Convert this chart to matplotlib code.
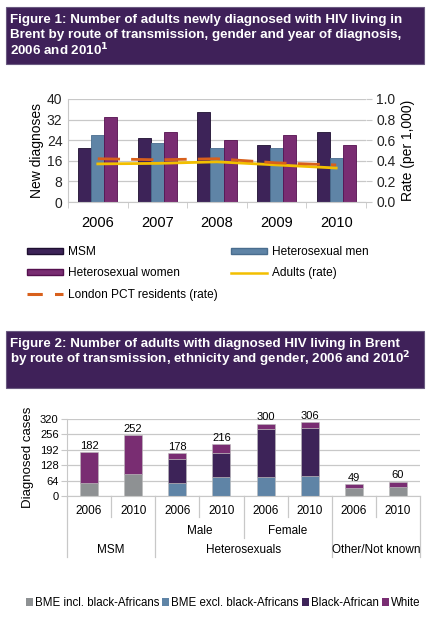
import numpy as np
import matplotlib.pyplot as plt
from matplotlib.patches import Rectangle, Patch
from matplotlib.lines import Line2D

plt.rcParams['font.family'] = ['Liberation Sans', 'DejaVu Sans']

# ---- Figure 1 data ----
years1 = ['2006', '2007', '2008', '2009', '2010']
msm = [21, 25, 35, 22, 27]
het_men = [26, 23, 21, 21, 17]
het_women = [33, 27, 24, 26, 22]
adults_rate = [0.37, 0.375, 0.39, 0.36, 0.33]
london_rate = [0.42, 0.41, 0.42, 0.38, 0.36]

# ---- Figure 2 data ----
years2 = ['2006', '2010', '2006', '2010', '2006', '2010', '2006', '2010']
bme_incl = [52, 92, 0, 0, 0, 0, 35, 39]
bme_excl = [0, 0, 56, 80, 80, 83, 0, 0]
black_african = [0, 0, 98, 100, 197, 198, 0, 0]
white = [130, 160, 24, 36, 23, 25, 14, 21]
totals = [182, 252, 178, 216, 300, 306, 49, 60]
sub_groups = ['Male', 'Female']
main_groups = ['MSM', 'Heterosexuals', 'Other/Not known']

c_msm = '#3d2358'
c_men = '#5f84a6'
c_women = '#792d72'
c_grey = '#8e9193'
c_title = '#3f2159'
grid_c = '#c8c8c8'

W, H = 443, 640
fig = plt.figure(figsize=(W / 100, H / 100), dpi=100)


def px_axes(l, t, r, b):
    return fig.add_axes([l / W, 1 - b / H, (r - l) / W, (b - t) / H])


def title_box(t, b, lines):
    fig.patches.append(Rectangle((6 / W, 1 - b / H), 418 / W, (b - t) / H,
                                 transform=fig.transFigure, facecolor=c_title,
                                 edgecolor='#6a5a80', lw=0.8))
    for i, s in enumerate(lines):
        fig.text(10 / W, 1 - (t + 13 + 15 * i) / H, s, color='white',
                 fontsize=9.6, fontweight='bold', va='center', ha='left')


title_box(7, 64, ['Figure 1: Number of adults newly diagnosed with HIV living in',
                  'Brent by route of transmission, gender and year of diagnosis,',
                  r'2006 and 2010$^{\mathbf{1}}$'])

# ---- Figure 1 ----
ax1 = px_axes(68, 99, 366, 202)
x = np.arange(len(years1))
bw = 0.22
ax1.bar(x - bw, msm, bw, color=c_msm, edgecolor='#1e0f30', lw=0.6, zorder=2)
ax1.bar(x, het_men, bw, color=c_men, edgecolor='#4a6d8e', lw=0.6, zorder=2)
ax1.bar(x + bw, het_women, bw, color=c_women, edgecolor='#55104f', lw=0.6, zorder=2)
ax1.set_ylim(0, 40)
ax1.set_yticks(range(0, 41, 8))
ax1.set_xlim(-0.5, 4.5)
ax1.set_xticks(x)
ax1.set_xticklabels(years1, fontsize=10.5)
ax1.set_xticks(np.arange(-0.5, 5, 1), minor=True)
ax1.tick_params(axis='x', which='major', length=0, pad=10)
ax1.tick_params(axis='x', which='minor', length=4, color=grid_c)
ax1.tick_params(axis='y', length=0, labelsize=10, pad=4, colors='#222222')
ax1.yaxis.grid(True, color=grid_c, lw=0.9, zorder=0)
ax1.set_axisbelow(True)
for s in ['top', 'right']:
    ax1.spines[s].set_visible(False)
ax1.spines['left'].set_color(grid_c)
ax1.spines['bottom'].set_color(grid_c)
ax1.set_ylabel('New diagnoses', fontsize=10, labelpad=2)

ax1r = ax1.twinx()
ax1r.plot(x, adults_rate, color='#f2bf00', lw=2, zorder=3)
ax1r.plot(x, london_rate, color='#d8601c', lw=2, dashes=(8, 4), zorder=3)
ax1r.set_ylim(0, 1.0)
ax1r.set_yticks(np.arange(0, 1.01, 0.2))
ax1r.set_yticklabels([f'{v:.1f}' for v in np.arange(0, 1.01, 0.2)])
ax1r.tick_params(axis='y', length=4, labelsize=10, colors=grid_c, labelcolor='#222222')
for s in ['top', 'left', 'bottom', 'right']:
    ax1r.spines[s].set_visible(False)
ax1r.set_ylabel('Rate (per 1,000)', fontsize=10, labelpad=4)

leg_kw = dict(loc='upper left', frameon=False, fontsize=8.6, handlelength=3.0,
              handleheight=0.45, handletextpad=0.45, labelspacing=0.78,
              borderpad=0, borderaxespad=0)
hA = [Patch(facecolor=c_msm, edgecolor='#1e0f30'),
      Patch(facecolor=c_women, edgecolor='#55104f'),
      Line2D([], [], color='#d8601c', lw=2.2, dashes=(5, 4))]
lA = ['MSM', 'Heterosexual women', 'London PCT residents (rate)']
hB = [Patch(facecolor=c_men, edgecolor='#4a6d8e'),
      Line2D([], [], color='#f2bf00', lw=1.8)]
lB = ['Heterosexual men', 'Adults (rate)']
fig.legend(hA, lA, bbox_to_anchor=(27 / W, 1 - 246 / H), **leg_kw)
fig.legend(hB, lB, bbox_to_anchor=(231 / W, 1 - 246 / H), **leg_kw)

# ---- Figure 2 ----
title_box(331, 388, ['Figure 2: Number of adults with diagnosed HIV living in Brent',
                     r'by route of transmission, ethnicity and gender, 2006 and 2010$^{\mathbf{2}}$'])

ax2 = px_axes(67, 419, 420, 496)
x2 = np.arange(len(years2))
bw2 = 0.41
b0 = np.zeros(len(x2))
for vals, col in [(bme_incl, c_grey), (bme_excl, c_men),
                  (black_african, c_msm), (white, c_women)]:
    ax2.bar(x2, vals, bw2, bottom=b0, color=col, edgecolor='#bbbbbb', lw=0.4, zorder=2)
    b0 = b0 + np.array(vals)
for xi, t in zip(x2, totals):
    ax2.text(xi, t + 6, str(t), ha='center', va='bottom', fontsize=8)
ax2.set_ylim(0, 320)
ax2.set_yticks(range(0, 321, 64))
ax2.set_xlim(-0.5, 7.5)
ax2.set_xticks([])
ax2.tick_params(axis='y', length=4, color=grid_c, labelsize=8, pad=2)
ax2.yaxis.grid(True, color=grid_c, lw=0.9, zorder=0)
ax2.set_axisbelow(True)
for s in ['top', 'right']:
    ax2.spines[s].set_visible(False)
ax2.spines['left'].set_color(grid_c)
ax2.spines['bottom'].set_color(grid_c)
ax2.set_ylabel('Diagnosed cases', fontsize=9.5, labelpad=4)

tr = ax2.get_xaxis_transform()
for xi, yr in zip(x2, years2):
    ax2.text(xi, -0.19, yr, transform=tr, ha='center', va='center', fontsize=8.5)
for xs, ybot in [(-0.5, -0.79), (0.5, -0.27), (1.5, -0.79), (2.5, -0.27),
                 (3.5, -0.55), (4.5, -0.27), (5.5, -0.79), (6.5, -0.27), (7.5, -0.79)]:
    ax2.plot([xs, xs], [0, ybot], transform=tr, color=grid_c, lw=0.9, clip_on=False)
for xc, s in zip([2.5, 4.5], sub_groups):
    ax2.text(xc, -0.45, s, transform=tr, ha='center', va='center', fontsize=8.5)
for xc, s in zip([0.5, 3.5, 6.5], main_groups):
    ax2.text(xc, -0.70, s, transform=tr, ha='center', va='center', fontsize=8.5)

h2 = [Patch(facecolor=c) for c in [c_grey, c_men, c_msm, c_women]]
l2 = ['BME incl. black-Africans', 'BME excl. black-Africans', 'Black-African', 'White']
fig.legend(h2, l2, ncol=4, loc='center left', bbox_to_anchor=(26 / W, 1 - 603 / H),
           frameon=False, fontsize=8.3, handlelength=0.6, handleheight=0.6,
           handletextpad=0.15, columnspacing=0.3, borderpad=0, borderaxespad=0)

fig.savefig('out.png', dpi=100)
